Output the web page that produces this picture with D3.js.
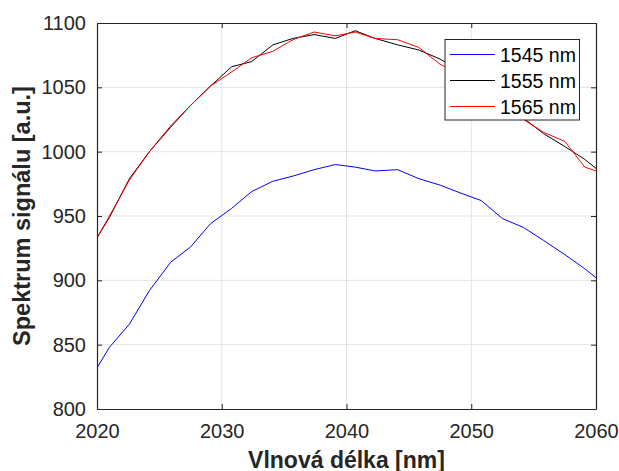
<!DOCTYPE html>
<html>
<head>
<meta charset="utf-8">
<script src="https://cdn.jsdelivr.net/npm/d3@7"></script>
<style>
  body { margin: 0; background: #fff; }
  svg { display: block; font-family: "Liberation Sans", Arial, sans-serif; }
  .grid line { stroke: #e3e3e3; stroke-width: 1; }
  .axis path, .axis line { stroke: #262626; }
  .axis text { fill: #262626; font-size: 20px; }
</style>
</head>
<body>
<svg id="chart" width="619" height="471"></svg>
<script>
// wavelength [nm]
var wavelength = [2020, 2021.0, 2022.6, 2024.2, 2025.9, 2027.5, 2029.1, 2030.8, 2032.4, 2034.1,
                  2035.7, 2037.4, 2039.1, 2040.7, 2042.3, 2044.1, 2045.8, 2047.5, 2049.1, 2050.8,
                  2052.5, 2054.2, 2055.8, 2057.5, 2059.1, 2060];
var s1545 = [832, 848, 866, 892, 914, 926, 944, 956, 969, 977,
             981, 986, 990, 988, 985, 986, 979, 974, 968, 962,
             948, 941, 931, 920, 909, 902];
var s1555 = [933, 949, 979, 1000, 1019, 1036, 1051, 1066, 1070, 1083,
             1088, 1091, 1088, 1094, 1088, 1083, 1079, 1072, 1063, 1051,
             1038, 1026, 1014, 1004, 994, 987];
var s1565 = [933, 950, 978, 1000, 1020, 1036, 1051, 1062, 1073, 1078,
             1087, 1093, 1090, 1093, 1088, 1087, 1081, 1068, 1060, 1050,
             1038, 1025, 1015, 1008, 988, 985];
var seriesNames = ["1545 nm", "1555 nm", "1565 nm"];
var seriesColors = ["#0000ff", "#000000", "#ff0000"];
var xTicks = [2020, 2030, 2040, 2050, 2060];
var yTicks = [800, 850, 900, 950, 1000, 1050, 1100];

var svg = d3.select("#chart");
var pl = 97, pr = 596, pt = 23, pb = 409;

var x = d3.scaleLinear().domain([2020, 2060]).range([pl, pr]);
var y = d3.scaleLinear().domain([800, 1100]).range([pb, pt]);

// grid
var grid = svg.append("g").attr("class", "grid");
grid.selectAll(".gx").data(xTicks.slice(1, -1)).enter().append("line")
    .attr("x1", function(d) { return x(d); }).attr("x2", function(d) { return x(d); })
    .attr("y1", pt).attr("y2", pb);
grid.selectAll(".gy").data(yTicks.slice(1, -1)).enter().append("line")
    .attr("y1", function(d) { return y(d); }).attr("y2", function(d) { return y(d); })
    .attr("x1", pl).attr("x2", pr);

svg.append("clipPath").attr("id", "clip").append("rect")
    .attr("x", pl).attr("y", pt).attr("width", pr - pl).attr("height", pb - pt);

var series = [s1545, s1555, s1565];
var line = d3.line()
    .x(function(d, i) { return x(wavelength[i]); })
    .y(function(d) { return y(d); });

svg.append("g").attr("clip-path", "url(#clip)")
  .selectAll("path").data(series).enter().append("path")
    .attr("d", line)
    .attr("fill", "none")
    .attr("stroke", function(d, i) { return seriesColors[i]; })
    .attr("stroke-width", 1);

// axes (ticks inward, box on)
svg.append("g").attr("class", "axis")
    .attr("transform", "translate(0," + pb + ")")
    .call(d3.axisBottom(x).tickValues(xTicks).tickSizeInner(-5).tickSizeOuter(0).tickPadding(15).tickFormat(d3.format("d")));
svg.append("g").attr("class", "axis")
    .attr("transform", "translate(" + pl + ",0)")
    .call(d3.axisLeft(y).tickValues(yTicks).tickSizeInner(-5).tickSizeOuter(0).tickPadding(11).tickFormat(d3.format("d")));
svg.append("g").attr("class", "axis")
    .attr("transform", "translate(0," + pt + ")")
    .call(d3.axisTop(x).tickValues(xTicks).tickSizeInner(-5).tickSizeOuter(0).tickFormat(""));
svg.append("g").attr("class", "axis")
    .attr("transform", "translate(" + pr + ",0)")
    .call(d3.axisRight(y).tickValues(yTicks).tickSizeInner(-5).tickSizeOuter(0).tickFormat(""));
svg.selectAll(".axis .domain").attr("stroke-width", 1.2);

// axis titles
svg.append("text")
    .attr("x", (pl + pr) / 2).attr("y", 468)
    .attr("text-anchor", "middle")
    .attr("font-weight", "bold").attr("font-size", 23).attr("fill", "#262626")
    .text("Vlnová délka [nm]");
svg.append("text")
    .attr("transform", "translate(30," + ((pt + pb) / 2) + ") rotate(-90)")
    .attr("text-anchor", "middle")
    .attr("font-weight", "bold").attr("font-size", 23.5).attr("fill", "#262626")
    .text("Spektrum signálu [a.u.]");

// legend
var legend = svg.append("g");
legend.append("rect")
    .attr("x", 445).attr("y", 39.5).attr("width", 134.5).attr("height", 80.5)
    .attr("fill", "#fff").attr("stroke", "#262626").attr("stroke-width", 1);
var rows = legend.selectAll("g.row").data(seriesNames).enter().append("g")
    .attr("transform", function(d, i) { return "translate(0," + (54.5 + i * 26) + ")"; });
rows.append("line")
    .attr("x1", 450).attr("x2", 495)
    .attr("stroke", function(d, i) { return seriesColors[i]; })
    .attr("stroke-width", 1);
rows.append("text")
    .attr("x", 500).attr("y", 7)
    .attr("font-size", 19.5).attr("fill", "#000")
    .text(function(d) { return d; });
</script>
</body>
</html>
